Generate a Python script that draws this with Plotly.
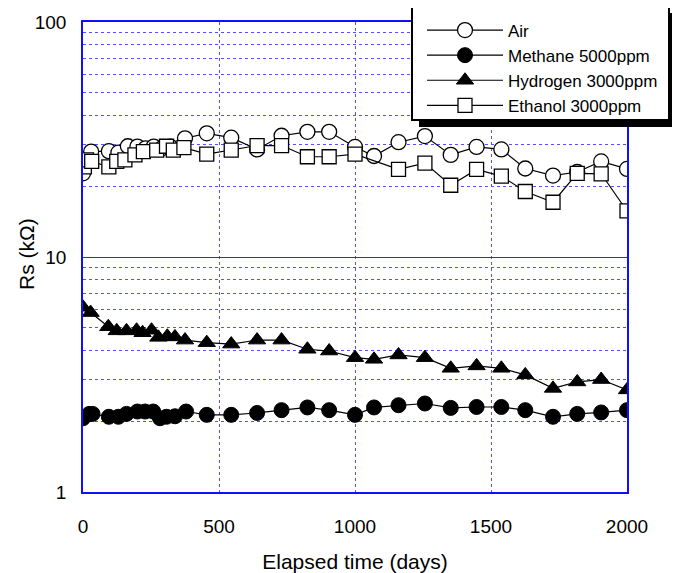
import plotly.graph_objects as go

# ---- data ----
days_air = [0, 30, 95, 130, 165, 200, 230, 260, 290, 320, 375, 455, 545, 640, 730, 825, 905,
            1000, 1070, 1160, 1257, 1352, 1447, 1538, 1626, 1728, 1817, 1905, 2000]
rs_air = [22.7, 28.1, 28.2, 27.8, 29.6, 29.5, 29.0, 29.5, 29.0, 29.5, 32.0, 33.6, 32.2, 28.7, 32.8,
          34.1, 34.1, 29.4, 26.9, 30.8, 32.7, 27.2, 29.4, 28.7, 23.8, 22.2, 23.0, 25.5, 23.7]

days_ch4 = [0, 23, 35, 95, 130, 160, 200, 228, 258, 283, 307, 338, 379, 455, 545, 640, 730, 825,
            905, 1000, 1070, 1160, 1257, 1352, 1447, 1538, 1626, 1728, 1817, 1905, 2000]
rs_ch4 = [2.06, 2.15, 2.15, 2.09, 2.09, 2.15, 2.20, 2.20, 2.20, 2.06, 2.09, 2.10, 2.20, 2.13, 2.13,
          2.17, 2.23, 2.29, 2.23, 2.13, 2.29, 2.34, 2.38, 2.28, 2.30, 2.30, 2.23, 2.09, 2.15, 2.18, 2.23]

days_h2 = [0, 28, 93, 124, 160, 197, 219, 252, 277, 310, 338, 375, 455, 545, 640, 730, 825, 905,
           1000, 1070, 1160, 1257, 1352, 1447, 1538, 1626, 1728, 1817, 1905, 2000]
rs_h2 = [6.11, 5.80, 5.05, 4.85, 4.85, 4.88, 4.76, 4.88, 4.55, 4.60, 4.57, 4.43, 4.32, 4.26, 4.43,
         4.43, 4.05, 3.98, 3.73, 3.67, 3.83, 3.73, 3.36, 3.44, 3.36, 3.15, 2.76, 2.94, 3.01, 2.72]

days_eth = [5, 13, 32, 95, 124, 154, 191, 222, 271, 307, 332, 371, 455, 545, 640, 730, 825, 905,
            1000, 1160, 1257, 1352, 1447, 1538, 1626, 1728, 1817, 1905, 2000]
rs_eth = [24.2, 25.9, 25.5, 24.2, 25.5, 25.9, 27.2, 28.1, 28.5, 29.6, 28.5, 29.2, 27.4, 28.5, 29.8,
          29.8, 26.7, 26.7, 27.4, 23.6, 25.1, 20.2, 23.6, 22.1, 19.0, 17.1, 22.7, 22.6, 15.7]

series_names = ["Air", "Methane 5000ppm", "Hydrogen 3000ppm", "Ethanol 3000ppm"]

x_ticks = [0, 500, 1000, 1500, 2000]
y_ticks = [1, 10, 100]
y_minor = [2, 3, 4, 5, 6, 7, 8, 9, 20, 30, 40, 50, 60, 70, 80, 90]

FONT = "Liberation Sans, Arial, Helvetica, sans-serif"
BLUE = "#1010ff"
GRIDBLUE = "#2a2aff"
DOTBLUE = "#5252ff"

fig = go.Figure()

fig.add_trace(go.Scatter(
    x=days_air, y=rs_air, name=series_names[0], mode="lines+markers", legendgroup="a",
    line=dict(color="black", width=1.2),
    marker=dict(symbol="circle", size=15, color="white", line=dict(color="black", width=1.3))))
fig.add_trace(go.Scatter(
    x=days_ch4, y=rs_ch4, name=series_names[1], mode="lines+markers", legendgroup="b",
    line=dict(color="black", width=1.2),
    marker=dict(symbol="circle", size=15, color="black", line=dict(color="black", width=1))))
fig.add_trace(go.Scatter(
    x=days_h2, y=rs_h2, name=series_names[2], mode="lines+markers", legendgroup="c",
    line=dict(color="black", width=1.2),
    marker=dict(symbol="triangle-up", size=15, color="black", line=dict(color="black", width=1))))
fig.add_trace(go.Scatter(
    x=days_eth, y=rs_eth, name=series_names[3], mode="lines+markers", legendgroup="d",
    line=dict(color="black", width=1.2),
    marker=dict(symbol="square", size=14, color="white", line=dict(color="black", width=1.3))))

# page body has an 8px margin: figure occupies (8,8)-(680,573)
OFF = 8
W, H = 680 - OFF, 573 - OFF
PL, PR, PT, PB = 83, 627, 22, 492          # plot-area edges in window pixels
L, R, T, B = PL - OFF, 680 - PR, PT - OFF, 573 - PB
pw, ph = PR - PL, PB - PT

def px_x(p):
    return (p - PL) / pw

def px_y(p):
    return (PB - p) / ph

# legend shadow and box
fig.add_shape(type="rect", xref="paper", yref="paper",
              x0=px_x(419), x1=px_x(676), y0=px_y(127), y1=px_y(13),
              fillcolor="black", line=dict(width=0), layer="above")
fig.add_shape(type="rect", xref="paper", yref="paper",
              x0=px_x(412), x1=px_x(669), y0=px_y(120), y1=px_y(6),
              fillcolor="white", line=dict(color="black", width=2), layer="above")

# y-axis title
fig.add_annotation(text="Rs (kΩ)", xref="paper", yref="paper", x=px_x(26), y=px_y(254),
                   xanchor="center", yanchor="middle", textangle=-90, showarrow=False,
                   font=dict(size=21, family=FONT, color="black"))

fig.update_layout(
    width=W, height=H,
    margin=dict(l=L, r=R, t=T, b=B, autoexpand=False),
    paper_bgcolor="white", plot_bgcolor="white",
    font=dict(family=FONT, color="black"),
    showlegend=True,
    legend=dict(x=px_x(422), y=px_y(6), xanchor="left", yanchor="top",
                bgcolor="rgba(0,0,0,0)", borderwidth=0,
                font=dict(family=FONT, size=17, color="black"),
                title=dict(text=" ", font=dict(size=5)),
                itemwidth=76, tracegroupgap=1, traceorder="normal"),
    xaxis=dict(range=[0, 2000], tickvals=x_ticks, ticktext=[str(v) for v in x_ticks],
               showgrid=True, gridcolor=DOTBLUE, griddash="dot", gridwidth=1.4,
               showline=True, linecolor=BLUE, linewidth=1.6, mirror=True,
               ticks="outside", ticklen=16, tickcolor="rgba(0,0,0,0)",
               tickfont=dict(size=19, family=FONT, color="black"),
               zeroline=False, automargin=False,
               title=dict(text="Elapsed time (days)", font=dict(size=21, family=FONT, color="black"),
                          standoff=19)),
    yaxis=dict(type="log", range=[0, 2], tickvals=y_ticks, ticktext=[str(v) for v in y_ticks],
               showgrid=True, gridcolor=GRIDBLUE, gridwidth=1.4,
               minor=dict(tickvals=y_minor, showgrid=True, gridcolor=DOTBLUE, griddash="dot",
                          gridwidth=1.2, ticks=""),
               showline=True, linecolor=BLUE, linewidth=1.6, mirror=True,
               ticks="outside", ticklen=11, tickcolor="rgba(0,0,0,0)",
               tickfont=dict(size=19, family=FONT, color="black"),
               zeroline=False, automargin=False),
)

fig.write_html("out.html")
